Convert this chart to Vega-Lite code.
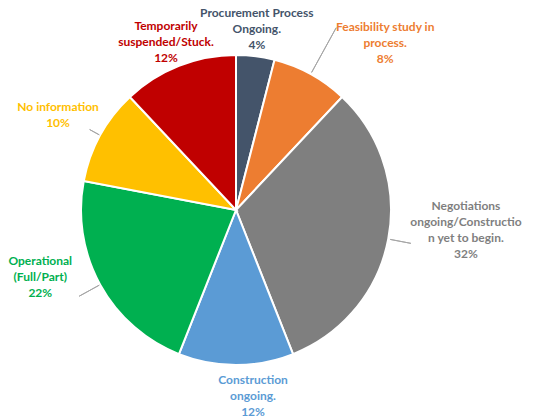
{
  "$schema": "https://vega.github.io/schema/vega-lite/v6.json",
  "width": 472,
  "height": 420,
  "autosize": {"type": "none"},
  "padding": {"left": 0, "top": 0, "right": 62, "bottom": 0},
  "background": "white",
  "config": {"view": {"stroke": null}},
  "data": {
    "values": [
      {"rank": 1, "status": "Procurement Process Ongoing.", "label": "Procurement Process\nOngoing.\n4%", "value": 4},
      {"rank": 2, "status": "Feasibility study in process.", "label": "Feasibility study in\nprocess.\n8%", "value": 8},
      {"rank": 3, "status": "Negotiations ongoing/Construction yet to begin.", "label": "Negotiations\nongoing/Constructio\nn yet to begin.\n32%", "value": 32},
      {"rank": 4, "status": "Construction ongoing.", "label": "Construction\nongoing.\n12%", "value": 12},
      {"rank": 5, "status": "Operational (Full/Part)", "label": "Operational\n(Full/Part)\n22%", "value": 22},
      {"rank": 6, "status": "No information", "label": "No information\n10%", "value": 10},
      {"rank": 7, "status": "Temporarily suspended/Stuck.", "label": "Temporarily\nsuspended/Stuck.\n12%", "value": 12}
    ]
  },
  "encoding": {
    "theta": {"field": "value", "type": "quantitative", "stack": true},
    "order": {"field": "rank", "type": "quantitative"},
    "color": {
      "field": "status",
      "type": "nominal",
      "legend": null,
      "scale": {
        "domain": ["Procurement Process Ongoing.", "Feasibility study in process.", "Negotiations ongoing/Construction yet to begin.", "Construction ongoing.", "Operational (Full/Part)", "No information", "Temporarily suspended/Stuck."],
        "range": ["#44546A", "#ED7D31", "#7F7F7F", "#5B9BD5", "#00B050", "#FFC000", "#C00000"]
      }
    }
  },
  "layer": [
    {"mark": {"type": "arc", "radius": 155, "stroke": "white", "strokeWidth": 2}},
    {
      "mark": {"type": "arc", "radius": 208, "radius2": 157, "padAngle": 3.14, "filled": false, "strokeWidth": 1},
      "encoding": {
        "stroke": {"value": "#A6A6A6"},
        "strokeOpacity": {"condition": {"test": "datum.rank === 2", "value": 1}, "value": 0}
      }
    },
    {
      "mark": {"type": "arc", "radius": 178, "radius2": 157, "padAngle": 3.14, "filled": false, "strokeWidth": 1},
      "encoding": {
        "stroke": {"value": "#A6A6A6"},
        "strokeOpacity": {"condition": {"test": "datum.rank === 3", "value": 1}, "value": 0}
      }
    },
    {
      "mark": {"type": "arc", "radius": 179, "radius2": 156, "padAngle": 3.14, "filled": false, "strokeWidth": 1},
      "encoding": {
        "stroke": {"value": "#A6A6A6"},
        "strokeOpacity": {"condition": {"test": "datum.rank === 5", "value": 1}, "value": 0}
      }
    },
    {
      "mark": {"type": "arc", "radius": 167, "radius2": 156, "padAngle": 3.14, "filled": false, "strokeWidth": 1},
      "encoding": {
        "stroke": {"value": "#A6A6A6"},
        "strokeOpacity": {"condition": {"test": "datum.rank === 6", "value": 1}, "value": 0}
      }
    },
    {
      "mark": {"type": "text", "radius": 182, "dx": -2, "dy": -16, "font": "Lato", "fontSize": 12, "fontWeight": "bold", "lineBreak": "\n", "lineHeight": 16, "align": "center", "baseline": "middle"},
      "encoding": {"text": {"condition": {"test": "datum.rank === 1", "field": "label"}, "value": ""}}
    },
    {
      "mark": {"type": "text", "radius": 208, "dx": 49, "dy": -1, "font": "Lato", "fontSize": 12, "fontWeight": "bold", "lineBreak": "\n", "lineHeight": 16, "align": "center", "baseline": "middle"},
      "encoding": {"text": {"condition": {"test": "datum.rank === 2", "field": "label"}, "value": ""}}
    },
    {
      "mark": {"type": "text", "radius": 230, "dx": 4, "dy": -47, "font": "Lato", "fontSize": 12, "fontWeight": "bold", "lineBreak": "\n", "lineHeight": 16, "align": "center", "baseline": "middle"},
      "encoding": {"text": {"condition": {"test": "datum.rank === 3", "field": "label"}, "value": ""}}
    },
    {
      "mark": {"type": "text", "radius": 186, "dx": 17, "dy": -16, "font": "Lato", "fontSize": 12, "fontWeight": "bold", "lineBreak": "\n", "lineHeight": 16, "align": "center", "baseline": "middle"},
      "encoding": {"text": {"condition": {"test": "datum.rank === 4", "field": "label"}, "value": ""}}
    },
    {
      "mark": {"type": "text", "radius": 180, "dx": -38, "dy": -36, "font": "Lato", "fontSize": 12, "fontWeight": "bold", "lineBreak": "\n", "lineHeight": 16, "align": "center", "baseline": "middle"},
      "encoding": {"text": {"condition": {"test": "datum.rank === 5", "field": "label"}, "value": ""}}
    },
    {
      "mark": {"type": "text", "radius": 170, "dx": -29, "dy": -21, "font": "Lato", "fontSize": 12, "fontWeight": "bold", "lineBreak": "\n", "lineHeight": 16, "align": "center", "baseline": "middle"},
      "encoding": {"text": {"condition": {"test": "datum.rank === 6", "field": "label"}, "value": ""}}
    },
    {
      "mark": {"type": "text", "radius": 182, "dx": -3, "dy": -15, "font": "Lato", "fontSize": 12, "fontWeight": "bold", "lineBreak": "\n", "lineHeight": 16, "align": "center", "baseline": "middle"},
      "encoding": {"text": {"condition": {"test": "datum.rank === 7", "field": "label"}, "value": ""}}
    }
  ]
}
